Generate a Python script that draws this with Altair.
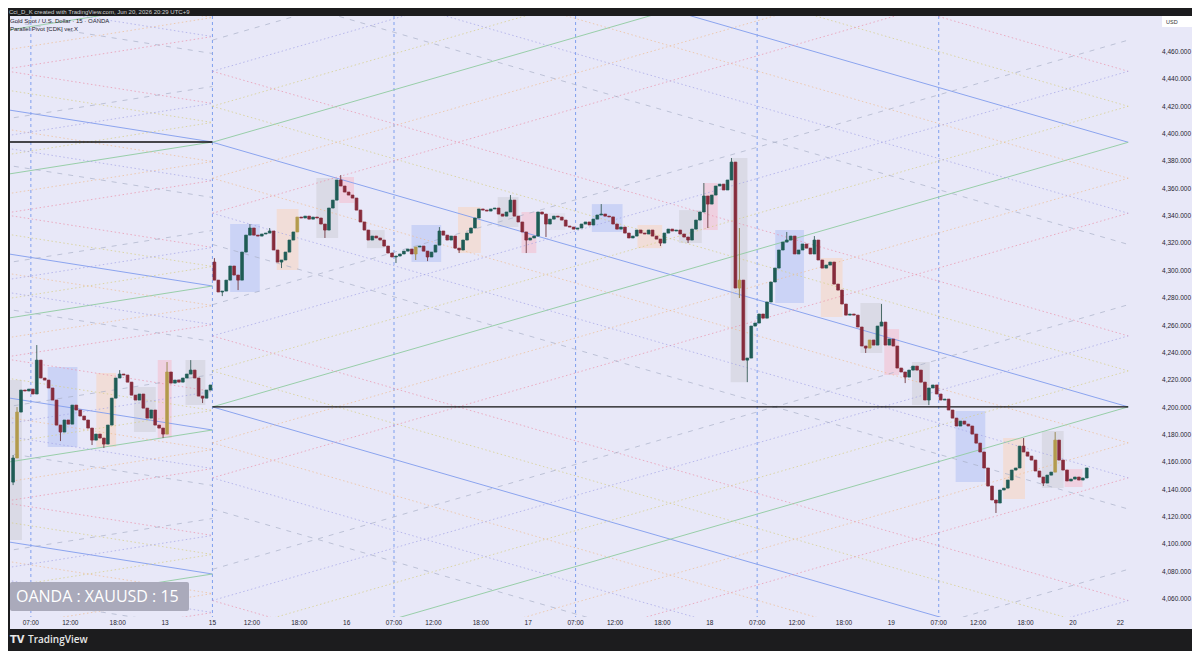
import altair as alt
import pandas as pd

# ---------------- values ----------------
# time axis: trading hours counted from the 07:00 session open on the 12th
# (the daily 06:00-07:00 break and the weekend are removed, as on the chart)
bar_step_hours = 0.5
first_bar_time = -2.25
first_open = 4145.5
gap_bar_index = 51          # first bar after the weekend gap (Monday 15th)
gap_open = 4306.4

closes = [
    4163.1, 4196.7, 4212.8, 4212.1, 4213.5, 4209.9, 4234.7, 4221.6, 4220.1, 4214.3,
    4205.5, 4187.2, 4182.1, 4190.9, 4187.9, 4201.8, 4198.2, 4193.8, 4190.9, 4185.0,
    4176.2, 4180.6, 4177.7, 4173.3, 4187.2, 4206.9, 4221.6, 4224.5, 4223.8, 4218.6,
    4209.1, 4205.5, 4209.9, 4199.6, 4192.3, 4198.2, 4187.2, 4185.0, 4180.6, 4226.0,
    4217.9, 4220.1, 4218.6, 4221.6, 4224.5, 4227.4, 4221.6, 4208.4, 4206.9, 4212.8,
    4216.5, 4293.2, 4284.5, 4285.2, 4293.2, 4303.5, 4296.9, 4293.2, 4313.7, 4326.1,
    4331.3, 4326.1, 4325.4, 4326.9, 4327.6, 4329.1, 4315.2, 4306.4, 4307.9, 4313.7,
    4322.5, 4328.4, 4339.3, 4338.6, 4340.0, 4337.8, 4339.3, 4338.6, 4334.2, 4329.8,
    4345.9, 4351.7, 4366.4, 4362.0, 4357.6, 4355.4, 4353.2, 4344.4, 4335.7, 4329.8,
    4322.5, 4325.4, 4324.0, 4322.5, 4318.1, 4313.0, 4310.1, 4310.8, 4312.3, 4314.4,
    4315.9, 4312.3, 4317.4, 4318.1, 4314.4, 4310.1, 4313.7, 4318.8, 4329.1, 4326.1,
    4322.5, 4325.4, 4316.6, 4315.2, 4322.5, 4327.6, 4331.3, 4338.6, 4345.2, 4344.4,
    4343.7, 4345.2, 4345.9, 4341.5, 4340.0, 4343.0, 4351.7, 4340.0, 4335.7, 4328.4,
    4322.5, 4324.0, 4325.4, 4343.0, 4341.5, 4334.2, 4337.8, 4340.0, 4339.3, 4337.1,
    4332.7, 4332.0, 4330.5, 4331.3, 4334.2, 4335.7, 4333.5, 4337.8, 4340.8, 4341.5,
    4340.0, 4339.4, 4334.2, 4330.5, 4332.0, 4327.6, 4324.0, 4325.4, 4329.8, 4327.6,
    4326.9, 4329.8, 4325.4, 4323.2, 4320.3, 4327.6, 4330.5, 4329.1, 4329.8, 4326.9,
    4324.7, 4322.5, 4330.5, 4337.1, 4343.0, 4354.7, 4348.8, 4355.4, 4362.0, 4363.4,
    4359.1, 4366.4, 4379.5, 4287.4, 4293.2, 4234.7, 4236.2, 4259.6, 4261.8, 4268.4,
    4265.4, 4277.2, 4291.8, 4302.0, 4315.2, 4321.0, 4322.5, 4325.4, 4312.3, 4315.2,
    4319.6, 4316.6, 4312.3, 4322.5, 4307.9, 4302.0, 4304.2, 4306.4, 4290.3, 4285.9,
    4275.7, 4267.6, 4268.4, 4267.6, 4258.9, 4245.0, 4243.5, 4249.4, 4245.7, 4259.6,
    4262.5, 4245.7, 4250.1, 4245.0, 4228.9, 4226.0, 4222.3, 4227.4, 4230.3, 4227.4,
    4218.6, 4205.5, 4214.3, 4216.5, 4209.9, 4205.5, 4206.2, 4198.2, 4192.3, 4186.5,
    4190.1, 4187.9, 4186.5, 4180.6, 4174.0, 4167.5, 4155.8, 4142.6, 4132.4, 4130.2,
    4139.7, 4141.1, 4147.0, 4154.3, 4155.8, 4171.8, 4167.5, 4164.5, 4161.6, 4153.6,
    4149.2, 4144.8, 4150.6, 4152.8, 4176.2, 4161.6, 4154.3, 4146.3, 4147.7, 4149.2,
    4147.0, 4148.5, 4155.8,
]

wick_highs = {
    0: 4165.3, 1: 4200.4, 6: 4245.7, 27: 4227.4, 39: 4233.3, 45: 4234.7, 51: 4309.3,
    60: 4334.2, 65: 4331.3, 83: 4370.0, 108: 4332.0, 126: 4355.4, 149: 4348.8,
    175: 4364.2, 182: 4382.5, 184: 4331.3, 196: 4328.4, 203: 4325.4, 220: 4275.7,
    256: 4177.7, 264: 4182.1,
}
wick_lows = {
    0: 4143.3, 12: 4175.5, 20: 4172.6, 23: 4170.4, 38: 4177.7, 48: 4203.3, 53: 4281.5,
    57: 4285.9, 68: 4302.0, 79: 4324.0, 97: 4305.7, 102: 4307.9, 105: 4307.1,
    113: 4313.0, 130: 4313.0, 135: 4324.7, 164: 4318.1, 171: 4320.3, 176: 4331.3,
    184: 4280.1, 186: 4218.6, 216: 4239.9, 226: 4217.9, 232: 4201.8, 249: 4122.9,
    261: 4142.6,
}
highlight_bars = [1, 39, 72, 102, 184, 217, 264]

tick_times = [0, 5, 11, 17, 23, 28, 34, 40, 46, 51, 57, 63, 69, 74, 80, 86,
              92, 97, 103, 109, 115, 120, 126, 132, 138]
tick_labels = ["07:00", "12:00", "18:00", "13", "15", "12:00", "18:00", "16",
               "07:00", "12:00", "18:00", "17", "07:00", "12:00", "18:00", "18",
               "07:00", "12:00", "18:00", "19", "07:00", "12:00", "18:00", "20", "22"]
price_ticks = [4060, 4080, 4100, 4120, 4140, 4160, 4180, 4200, 4220, 4240, 4260,
               4280, 4300, 4320, 4340, 4360, 4380, 4400, 4420, 4440, 4460]

session_opens = [0, 23, 46, 69, 92, 115]

box_start = [-2.64, 2.13, 8.29, 13.06, 16.07, 19.59, 25.24, 31.14, 36.16, 39.05,
             42.56, 48.21, 54.11, 59.13, 62.15, 65.54, 71.06, 76.84, 82.11, 85.12,
             88.64, 94.29, 100.06, 105.08, 108.10, 111.61, 117.14, 123.16, 128.06, 130.95]
box_end = [-1.13, 5.90, 10.80, 15.82, 17.83, 22.10, 29.00, 33.90, 38.92, 40.93,
           44.82, 51.98, 57.00, 61.77, 64.03, 67.67, 74.95, 79.97, 84.99, 87.01,
           90.77, 97.93, 102.82, 107.85, 109.98, 113.87, 120.90, 125.93, 130.82, 133.21]
box_top = [4220.1, 4229.6, 4225.2, 4215.0, 4234.7, 4234.7, 4334.2, 4345.2, 4367.9, 4368.6,
           4329.8, 4333.5, 4346.6, 4353.9, 4343.0, 4342.2, 4348.8, 4333.5, 4344.4, 4364.2,
           4382.5, 4329.8, 4309.3, 4276.4, 4257.4, 4233.3, 4197.5, 4177.7, 4182.8, 4155.0]
box_bottom = [4103.1, 4171.1, 4171.1, 4182.1, 4177.7, 4201.8, 4284.5, 4300.6, 4324.0, 4349.6,
              4316.6, 4306.4, 4313.0, 4332.0, 4313.0, 4329.8, 4328.4, 4316.6, 4320.3, 4329.8,
              4218.6, 4276.4, 4266.2, 4239.9, 4223.8, 4201.8, 4145.5, 4133.1, 4141.1, 4141.9]
box_kind = ["gray", "blue", "orange", "gray", "pink", "gray", "blue", "orange", "gray", "pink",
            "gray", "blue", "orange", "gray", "pink", "light", "blue", "orange", "gray", "pink",
            "gray", "blue", "orange", "gray", "pink", "gray", "blue", "orange", "gray", "pink"]

# horizontal pivot lines
hline_start = [-2.64, 23]
hline_end = [23, 139]
hline_price = [4394.2, 4200.5]

# Parallel Pivot lattice: previous week (levels where its lines end, at the 15th open)
prev_week = (-93, 23)
prev_range = 105.3
prev_levels = [4013.6, 4037.7, 4050.1, 4064.0, 4078.3, 4092.6, 4106.5, 4118.9, 4143.0,
               4155.4, 4169.3, 4183.6, 4197.9, 4211.8, 4224.2, 4248.3, 4260.7, 4274.6,
               4288.9, 4303.2, 4317.1, 4329.5, 4353.6, 4366.0, 4379.9, 4394.2, 4408.5,
               4422.4, 4434.8, 4458.9, 4471.3, 4485.2, 4499.5, 4513.8]
prev_kinds = ["g", "g2", "r2", "y2", "p", "y", "r", "g", "g2", "r2", "y2", "p", "y", "r",
              "g", "g2", "r2", "y2", "p", "y", "r", "g", "g2", "r2", "y2", "p", "y", "r",
              "g", "g2", "r2", "y2", "p", "y"]
# this week (levels where its lines start, at the 15th open)
this_week = (23, 139)
this_range = 193.5
this_levels = [3865.4, 3888.2, 3932.3, 3955.1, 3980.7, 4007.0, 4033.3, 4058.9, 4081.7,
               4125.8, 4148.6, 4174.2, 4200.5, 4226.8, 4252.4, 4275.2, 4319.3, 4342.1,
               4367.7, 4394.0, 4420.3, 4445.9, 4468.7, 4512.8, 4535.6, 4561.2, 4587.5,
               4613.8, 4639.4, 4662.2]
this_kinds = ["r", "g", "g2", "r2", "y2", "p", "y", "r", "g", "g2", "r2", "y2", "p", "y",
              "r", "g", "g2", "r2", "y2", "p", "y", "r", "g", "g2", "r2", "y2", "p", "y",
              "r", "g"]

# ---------------- styling ----------------
DARK = "#1c1c1e"
LAVENDER = "#e8e8f8"
FONT = "Liberation Sans"
T_MIN, T_MAX = -2.009, 139.862
P_MIN, P_MAX = 4046.85, 4486.33
W, H = 1130, 601

xs = alt.Scale(domain=[T_MIN, T_MAX], nice=False, zero=False)
ys = alt.Scale(domain=[P_MIN, P_MAX], nice=False, zero=False)

# ---------------- tables ----------------
opens = [first_open] + closes[:-1]
opens[gap_bar_index] = gap_open
rows = []
for i, (o, c) in enumerate(zip(opens, closes)):
    hi = max(wick_highs.get(i, max(o, c)), o, c)
    lo = min(wick_lows.get(i, min(o, c)), o, c)
    if i in highlight_bars:
        d = "hl"
    else:
        d = "up" if c >= o else "down"
    rows.append(dict(t=first_bar_time + bar_step_hours * i, open=o, close=c,
                     high=hi, low=lo, dir=d))
candles = pd.DataFrame(rows)

boxes = pd.DataFrame(dict(t1=box_start, t2=box_end, top=box_top, bot=box_bottom, kind=box_kind))
sessions = pd.DataFrame(dict(t=session_opens))
hlines = pd.DataFrame(dict(t1=hline_start, t2=hline_end, p=hline_price))
xticks = pd.DataFrame(dict(t=tick_times, label=tick_labels))
pticks = pd.DataFrame(dict(p=price_ticks))


def style_of(kind, direction):
    if kind == "p":
        return "blue" if direction == "down" else "green"
    if kind == "y":
        return "yellow"
    if kind == "y2":
        return "orange"
    if kind == "g":
        return "gray" if direction == "up" else None
    if kind == "g2":
        return "gray" if direction == "down" else None
    if kind == "r":
        return "pink" if direction == "down" else "purple"
    return "purple" if direction == "down" else "pink"


lat = []
ts, te = this_week
for L, k in zip(this_levels, this_kinds):
    lat.append(dict(t1=ts, p1=L, t2=te, p2=L - this_range, s=style_of(k, "down")))
    lat.append(dict(t1=ts, p1=L, t2=te, p2=L + this_range, s=style_of(k, "up")))
ts, te = prev_week
for L, k in zip(prev_levels, prev_kinds):
    lat.append(dict(t1=ts, p1=L + prev_range, t2=te, p2=L, s=style_of(k, "down")))
    lat.append(dict(t1=ts, p1=L - prev_range, t2=te, p2=L, s=style_of(k, "up")))
lattice = pd.DataFrame(lat)

styles = {
    "blue": ("#86a0ee", None, 0.95),
    "green": ("#94cca4", None, 0.95),
    "yellow": ("#d6cd88", [1.5, 2.5], 0.75),
    "orange": ("#eebb90", [1.5, 2.5], 0.7),
    "pink": ("#ea90a8", [1.5, 2.5], 0.7),
    "purple": ("#a2a2e6", [1.5, 2.5], 0.7),
    "gray": ("#aab0c8", [5, 6], 0.7),
}

one = pd.DataFrame({"z": [0]})
layers = []

# lavender panel (chart + scales area)
layers.append(alt.Chart(one).mark_rect(color=LAVENDER).encode(
    x=alt.value(0), x2=alt.value(1182), y=alt.value(0), y2=alt.value(613)))

# session boxes
layers.append(alt.Chart(boxes).mark_rect(clip=True).encode(
    x=alt.X("t1:Q", scale=xs, axis=None), x2="t2:Q",
    y=alt.Y("top:Q", scale=ys, axis=None), y2="bot:Q",
    color=alt.Color("kind:N", legend=None, scale=alt.Scale(
        domain=["blue", "orange", "pink", "gray", "light"],
        range=["#cbd3f6", "#f1ddd8", "#efd0e0", "#dadae6", "#e1e1ef"]))))

# session open verticals
layers.append(alt.Chart(sessions).mark_rule(color="#7f9fee", strokeDash=[3, 3], strokeWidth=1).encode(
    x=alt.X("t:Q", scale=xs, axis=None)))

# lattice lines
for name, (col, dash, op) in styles.items():
    sub = lattice[lattice["s"] == name]
    kw = dict(color=col, strokeWidth=1, clip=True, opacity=op)
    if dash:
        kw["strokeDash"] = dash
    layers.append(alt.Chart(sub).mark_rule(**kw).encode(
        x=alt.X("t1:Q", scale=xs, axis=None), x2="t2:Q",
        y=alt.Y("p1:Q", scale=ys, axis=None), y2="p2:Q"))

# black pivot horizontals
layers.append(alt.Chart(hlines).mark_rule(color="#111111", strokeWidth=1.3, clip=True).encode(
    x=alt.X("t1:Q", scale=xs, axis=None), x2="t2:Q",
    y=alt.Y("p:Q", scale=ys, axis=None)))

# wicks
layers.append(alt.Chart(candles).mark_rule(strokeWidth=1, clip=True).encode(
    x=alt.X("t:Q", scale=xs, axis=None),
    y=alt.Y("low:Q", scale=ys, axis=None), y2="high:Q",
    color=alt.Color("dir:N", scale=alt.Scale(domain=["up", "down", "hl"],
                    range=["#4a6b68", "#7a4852", "#9b8a55"]), legend=None)))

# bodies
body_scale = alt.Scale(domain=["up", "down", "hl"], range=["#1f5c56", "#862b3b", "#b39b4d"])
layers.append(alt.Chart(candles).mark_bar(size=2.8, clip=True, strokeWidth=0.7).encode(
    x=alt.X("t:Q", scale=xs, axis=None),
    y=alt.Y("open:Q", scale=ys, axis=None), y2="close:Q",
    color=alt.Color("dir:N", scale=body_scale, legend=None),
    stroke=alt.Stroke("dir:N", scale=body_scale, legend=None)))

# time scale labels
layers.append(alt.Chart(xticks).mark_text(font=FONT, fontSize=6.5, color="#1f2430",
                                          baseline="middle", align="center").encode(
    x=alt.X("t:Q", scale=xs, axis=None), y=alt.value(H + 6), text="label:N"))

# price scale labels
layers.append(alt.Chart(pticks).mark_text(font=FONT, fontSize=6.5, color="#1f2430",
                                          baseline="middle", align="right").encode(
    x=alt.value(W + 51), y=alt.Y("p:Q", scale=ys, axis=None),
    text=alt.Text("p:Q", format=",.3f")))

# watermark
layers.append(alt.Chart(one).mark_rect(color="#aaaabb", cornerRadius=2).encode(
    x=alt.value(0), x2=alt.value(179), y=alt.value(566), y2=alt.value(595)))
layers.append(alt.Chart(one).mark_text(text="OANDA : XAUUSD : 15", font="Open Sans",
                                       fontSize=16, color="#ffffff", align="left",
                                       baseline="middle").encode(
    x=alt.value(6), y=alt.value(581)))

# legend texts top-left
layers.append(alt.Chart(one).mark_text(text="Gold Spot / U.S. Dollar · 15 · OANDA", font=FONT,
                                       fontSize=6, color="#1f2430", align="left",
                                       baseline="middle").encode(
    x=alt.value(0), y=alt.value(4.5)))
layers.append(alt.Chart(one).mark_text(text="Parallel Pivot [CDK] ver.X", font=FONT,
                                       fontSize=6, color="#1f2430", align="left",
                                       baseline="middle").encode(
    x=alt.value(0), y=alt.value(13)))

# USD box
layers.append(alt.Chart(one).mark_rect(color="#ffffff").encode(
    x=alt.value(1152), x2=alt.value(1182), y=alt.value(0), y2=alt.value(11)))
layers.append(alt.Chart(one).mark_text(text="USD", font=FONT, fontSize=5.5, color="#333333",
                                       align="left", baseline="middle").encode(
    x=alt.value(1156), y=alt.value(5.5)))

# frame texts
layers.append(alt.Chart(one).mark_text(
    text="Cci_D_K created with TradingView.com, Jun 20, 2026 20:29 UTC+9", font=FONT,
    fontSize=6, color="#d0d0d0", align="left", baseline="middle").encode(
    x=alt.value(-1), y=alt.value(-4)))
layers.append(alt.Chart(one).mark_text(text="TV", font="DejaVu Sans", fontSize=10,
                                       fontWeight=900, color="#e8e8e8", align="left",
                                       baseline="middle").encode(
    x=alt.value(0), y=alt.value(624)))
layers.append(alt.Chart(one).mark_text(text="TradingView", font="Open Sans", fontSize=10,
                                       fontWeight=600, color="#e8e8e8", align="left",
                                       baseline="middle").encode(
    x=alt.value(18), y=alt.value(624)))

chart = alt.layer(*layers).resolve_scale(color="independent", stroke="independent").properties(
    width=W, height=H,
    padding={"left": 2, "top": 8, "right": 52, "bottom": 34},
    autosize=alt.AutoSizeParams(type="none"),
).configure(background=DARK).configure_view(stroke=None)

chart.save("out.html", embed_options={"renderer": "svg", "actions": False})
